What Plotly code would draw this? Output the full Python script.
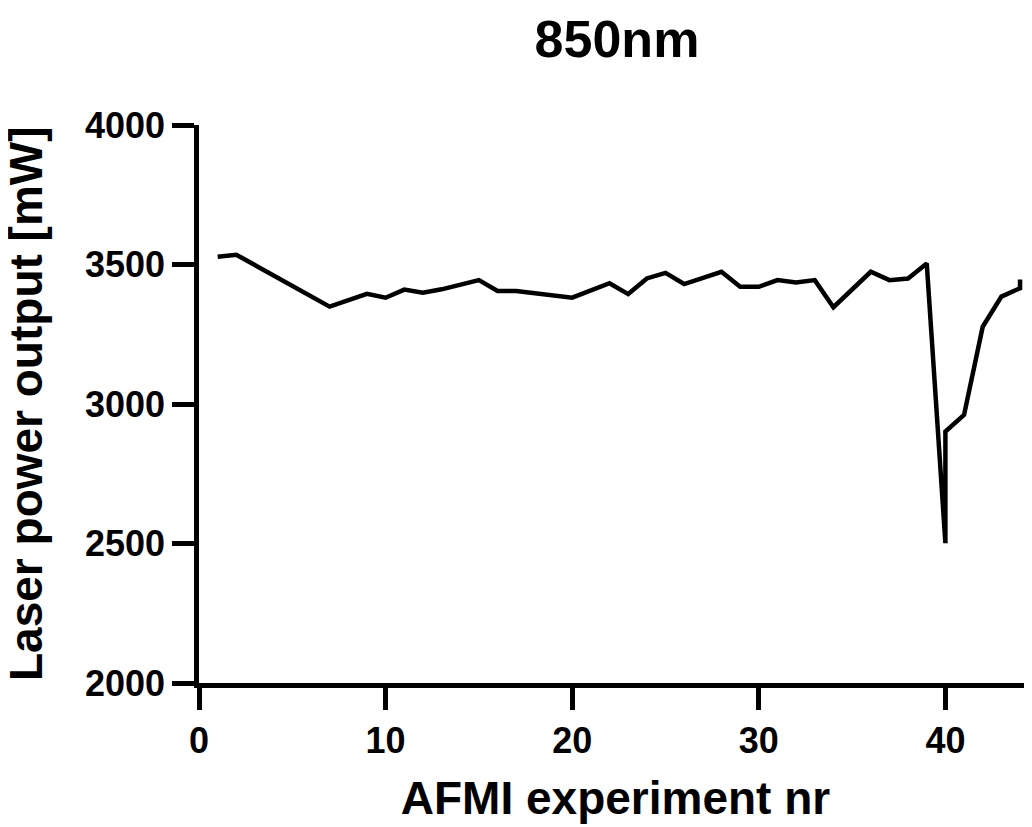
import plotly.graph_objects as go

experiment_nr = [1, 2, 7, 9, 10, 11, 12, 13, 15, 16, 17, 20, 22, 23, 24, 25, 26, 28,
                 29, 30, 31, 32, 33, 34, 36, 37, 38, 39, 40, 40, 41, 42, 43, 44, 44]
power_mw = [3528, 3535, 3349, 3395, 3381, 3410, 3399, 3411, 3444, 3405, 3405, 3381,
            3433, 3394, 3450, 3470, 3430, 3474, 3420, 3420, 3444, 3436, 3444, 3347,
            3474, 3444, 3450, 3504, 2501, 2901, 2961, 3277, 3385, 3415, 3446]
x_ticks = [0, 10, 20, 30, 40]
y_ticks = [2000, 2500, 3000, 3500, 4000]

FONT = "Liberation Sans, Arial, sans-serif"

fig = go.Figure()
fig.add_trace(go.Scatter(x=experiment_nr, y=power_mw, mode="lines",
                         line=dict(color="black", width=4.5), showlegend=False))

# page body adds an 8px offset, so the figure is sized to fill the rest of the window
W, H = 1024, 819
L, R, T, B = 191, 0, 117, 144
PW = W - L
fig.update_layout(
    width=W, height=H,
    margin=dict(l=L, r=R, t=T, b=B, pad=0),
    paper_bgcolor="white", plot_bgcolor="white",
    font=dict(family=FONT, color="black"),
    title=dict(text="<b>850nm</b>", x=609 / W, xanchor="center",
               y=1 - 31 / H, yanchor="middle", yref="container",
               font=dict(size=52, family=FONT, color="black")),
    xaxis=dict(range=[0, PW / 18.66], tickvals=x_ticks,
               ticktext=[f"<b>{v}</b>" for v in x_ticks],
               showline=True, linecolor="black", linewidth=4.5,
               ticks="outside", ticklen=22, tickwidth=4.5, tickcolor="black",
               showgrid=False, zeroline=False,
               tickfont=dict(size=36, family=FONT, color="black"),
               title=dict(text="<b>AFMI experiment nr</b>", standoff=23,
                          font=dict(size=46, family=FONT, color="black"))),
    yaxis=dict(range=[2000, 4000], tickvals=y_ticks,
               ticktext=[f"<b>{v}</b>" for v in y_ticks],
               showline=True, linecolor="black", linewidth=4.5,
               ticks="outside", ticklen=22, tickwidth=4.5, tickcolor="black",
               showgrid=False, zeroline=False,
               tickfont=dict(size=36, family=FONT, color="black")),
    annotations=[dict(text="<b>Laser power output [mW]</b>", textangle=-90,
                      xref="paper", yref="paper", x=(18 - L) / PW, y=0.5,
                      xanchor="center", yanchor="middle", showarrow=False,
                      font=dict(size=46, family=FONT, color="black"))],
)

fig.write_html("out.html")
